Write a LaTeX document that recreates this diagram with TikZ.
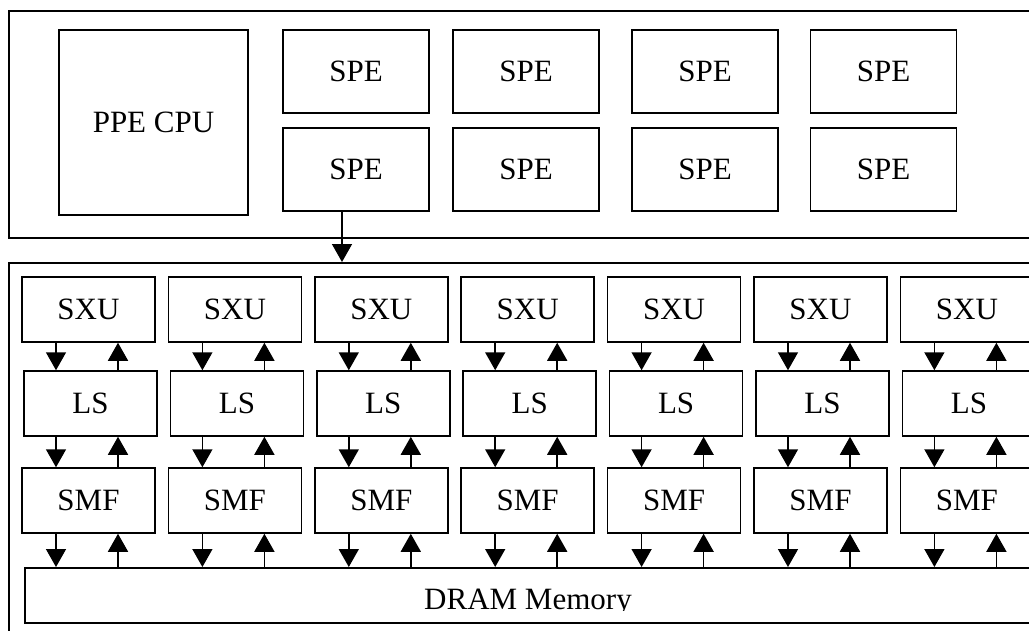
\documentclass[tikz,border=0pt]{standalone}
\usepackage{fontspec}
\setmainfont{Liberation Serif}
\usetikzlibrary{arrows.meta}
\tikzset{
  blk/.style={draw,line width=1.5pt,shape=rectangle,inner sep=0pt,font=\fontsize{31}{37}\selectfont},
  unit/.style={blk,minimum width=133pt,minimum height=65pt},
  spe/.style={blk,minimum width=146pt,minimum height=83pt},
  link/.style={line width=1.5pt,-{Triangle[width=20pt,length=18pt]}},
}
\begin{document}
\begin{tikzpicture}[x=1pt,y=-1pt]
\useasboundingbox (0,0) rectangle (1029,630);
\clip (0,0) rectangle (1029,630);
% processor and the array below it
\node[blk,minimum width=1060pt,minimum height=227pt,anchor=north west](chip) at (8,10){};
\node[blk,minimum width=1060pt,minimum height=400pt,anchor=north west](array) at (8,262){};
\node[blk,minimum width=189pt,minimum height=185pt](ppe) at (153.5,122.5){PPE CPU};
% two rows of SPEs
\foreach \x [count=\i] in {356,526,705,883.5}{
  \node[spe](speA\i) at (\x,71.5){SPE};
  \node[spe](speB\i) at (\x,169.5){SPE};
}
\draw[link] ([xshift=-14pt]speB1.south) -- ([xshift=-14pt]speB1.south |- array.north);
% memory strip
\node[blk,minimum width=1008pt,minimum height=55pt,anchor=north west](dram) at (24,567){};
\begin{scope}
  \clip (24,567) rectangle (1032,610);
  \node[font=\fontsize{31}{37}\selectfont,anchor=base](dramtxt) at (528,609){DRAM Memory};
\end{scope}
% SXU / LS / SMF columns
\foreach \i in {0,...,6}{
  \pgfmathsetmacro\cx{88.5+146.4*\i}
  \node[unit](sxu\i) at (\cx,309.5){SXU};
  \node[unit](ls\i) at (\cx+2,403.5){LS};
  \node[unit](smf\i) at (\cx,500.5){SMF};
  \draw[link] ([xshift=-32.5pt]sxu\i.south) -- ([xshift=-32.5pt]sxu\i.south |- ls\i.north);
  \draw[link] ([xshift=29.5pt]sxu\i.south |- ls\i.north) -- ([xshift=29.5pt]sxu\i.south);
  \draw[link] ([xshift=-32.5pt]smf\i.north |- ls\i.south) -- ([xshift=-32.5pt]smf\i.north);
  \draw[link] ([xshift=29.5pt]smf\i.north) -- ([xshift=29.5pt]smf\i.north |- ls\i.south);
  \draw[link] ([xshift=-32.5pt]smf\i.south) -- ([xshift=-32.5pt]smf\i.south |- dram.north);
  \draw[link] ([xshift=29.5pt]smf\i.south |- dram.north) -- ([xshift=29.5pt]smf\i.south);
}
\end{tikzpicture}
\end{document}
